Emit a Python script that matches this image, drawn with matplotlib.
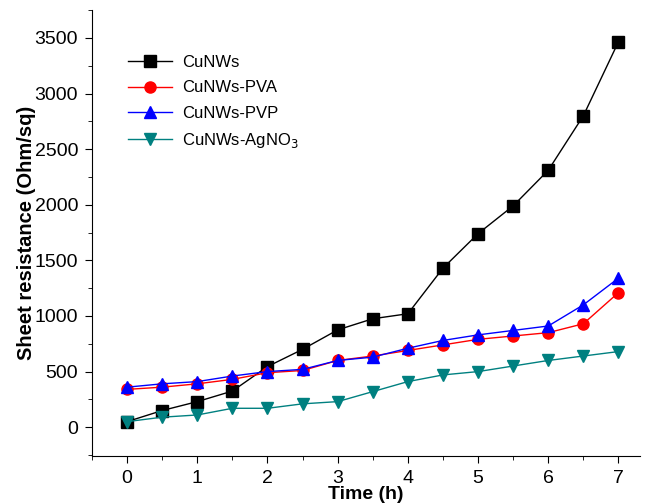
import matplotlib
matplotlib.use("Agg")
import matplotlib.pyplot as plt
from matplotlib.ticker import MultipleLocator

plt.rcParams['font.family'] = ['Liberation Sans', 'DejaVu Sans']

time_h = [0, 0.5, 1, 1.5, 2, 2.5, 3, 3.5, 4, 4.5, 5, 5.5, 6, 6.5, 7]
cunws = [50, 150, 230, 325, 545, 700, 875, 975, 1020, 1430, 1740, 1990, 2310, 2800, 3465]
cunws_pva = [340, 360, 390, 430, 490, 510, 600, 640, 690, 740, 790, 820, 850, 930, 1210]
cunws_pvp = [360, 390, 410, 460, 500, 520, 600, 630, 710, 780, 830, 870, 910, 1100, 1340]
cunws_agno3 = [50, 90, 110, 170, 170, 210, 230, 320, 410, 470, 500, 550, 600, 640, 680]

labels = ['CuNWs', 'CuNWs-PVA', 'CuNWs-PVP', 'CuNWs-AgNO$_3$']
colors = ['black', 'red', 'blue', '#008080']
markers = ['s', 'o', '^', 'v']

fig = plt.figure(figsize=(6.48, 5.04), dpi=100)
ax = fig.add_axes([0.142, 0.095, 0.846, 0.885])

for y, lab, c, m in zip([cunws, cunws_pva, cunws_pvp, cunws_agno3], labels, colors, markers):
    ax.plot(time_h, y, color=c, marker=m, markersize=8, linewidth=1.0, label=lab)

ax.set_xlim(-0.5, 7.31)
ax.set_ylim(-260, 3750)
ax.xaxis.set_major_locator(MultipleLocator(1))
ax.xaxis.set_minor_locator(MultipleLocator(0.5))
ax.yaxis.set_major_locator(MultipleLocator(500))
ax.yaxis.set_minor_locator(MultipleLocator(250))
ax.tick_params(which='both', direction='out', labelsize=14)
ax.tick_params(which='major', length=5)
ax.tick_params(which='minor', length=3)
ax.tick_params(axis='x', pad=5)
ax.tick_params(axis='y', pad=5)
ax.spines['top'].set_visible(False)
ax.spines['right'].set_visible(False)

ax.set_xlabel('Time (h)', fontsize=14, fontweight='bold', labelpad=-1)
ax.set_ylabel('Sheet resistance (Ohm/sq)', fontsize=14.5, fontweight='bold', labelpad=-1)

ax.legend(loc='upper left', bbox_to_anchor=(0.066, 0.899), frameon=False, fontsize=12,
          handlelength=2.6, handletextpad=0.65, labelspacing=0.62, borderaxespad=0,
          borderpad=0)

fig.savefig('out.png', dpi=100)
